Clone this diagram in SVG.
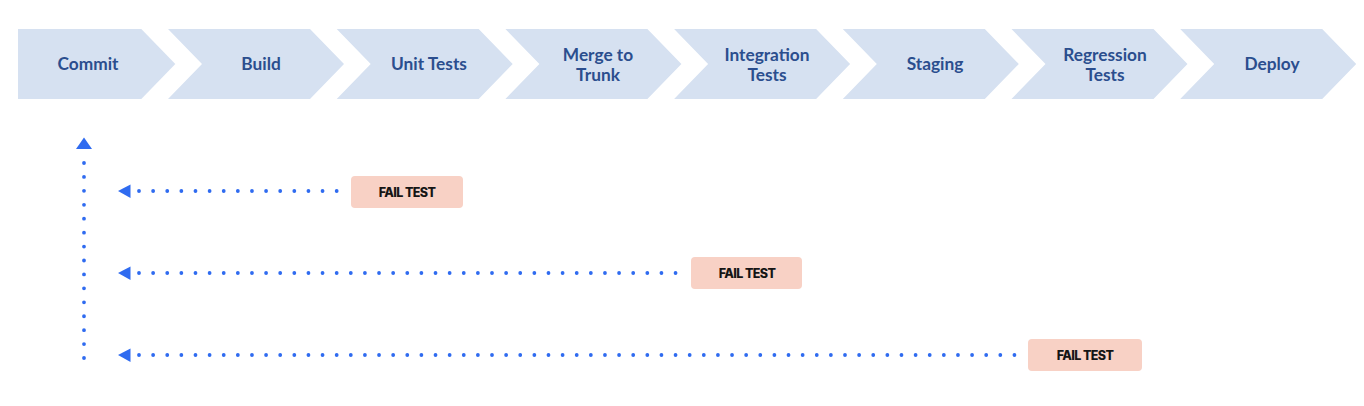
<svg xmlns="http://www.w3.org/2000/svg" width="1364" height="406" viewBox="0 0 1364 406">
<defs>
<style>
.chev{fill:#D6E1F1;}
.lbl{font-family:Lato,"Open Sans",sans-serif;font-weight:700;font-size:17.3px;fill:#2B4E8E;text-anchor:middle;}
.dot{fill:none;stroke:#2F6BF0;stroke-width:3.8;stroke-linecap:round;stroke-dasharray:0 14.12;}
.head{fill:#2F6BF0;}
.fail{fill:#F8D1C5;}
.ft{font-family:Inter,"Liberation Sans",sans-serif;font-weight:800;font-size:12.5px;fill:#151515;text-anchor:middle;letter-spacing:-0.6px;}
</style>
</defs>
<rect width="1364" height="406" fill="#FFFFFF"/>
<g id="commit"><polygon class="chev" points="18,29 141.3,29 175.3,64 141.3,99 18,99"/><text class="lbl" x="88" y="70">Commit</text></g>
<g id="build"><polygon class="chev" points="168,29 310,29 344,64 310,99 168,99 202,64"/><text class="lbl" x="261" y="70">Build</text></g>
<g id="unit-tests"><polygon class="chev" points="336.7,29 478.7,29 512.7,64 478.7,99 336.7,99 370.7,64"/><text class="lbl" x="429" y="70">Unit Tests</text></g>
<g id="merge-to-trunk"><polygon class="chev" points="505.4,29 647.4,29 681.4,64 647.4,99 505.4,99 539.4,64"/><text class="lbl" x="598" y="60.5">Merge to</text><text class="lbl" x="598" y="80.5">Trunk</text></g>
<g id="integration-tests"><polygon class="chev" points="674.1,29 816.1,29 850.1,64 816.1,99 674.1,99 708.1,64"/><text class="lbl" x="767" y="60.5">Integration</text><text class="lbl" x="767" y="80.5">Tests</text></g>
<g id="staging"><polygon class="chev" points="842.8,29 984.8,29 1018.8,64 984.8,99 842.8,99 876.8,64"/><text class="lbl" x="935" y="70">Staging</text></g>
<g id="regression-tests"><polygon class="chev" points="1011.5,29 1153.5,29 1187.5,64 1153.5,99 1011.5,99 1045.5,64"/><text class="lbl" x="1105" y="60.5">Regression</text><text class="lbl" x="1105" y="80.5">Tests</text></g>
<g id="deploy"><polygon class="chev" points="1180.2,29 1322.2,29 1356.2,64 1322.2,99 1180.2,99 1214.2,64"/><text class="lbl" x="1272" y="70">Deploy</text></g>
<g id="fail-1"><rect class="fail" x="351" y="176" width="112" height="32" rx="4"/><text class="ft" x="407" y="196.5">FAIL TEST</text></g>
<g id="fail-2"><rect class="fail" x="691" y="257" width="111" height="32" rx="4"/><text class="ft" x="747" y="277.5">FAIL TEST</text></g>
<g id="fail-3"><rect class="fail" x="1028" y="339" width="114" height="32" rx="4"/><text class="ft" x="1085" y="359.5">FAIL TEST</text></g>
<g id="connectors">
<path class="dot" d="M84,163 V360" style="stroke-dasharray:0 13.93"/>
<polygon class="head" points="84,137.5 92,149 76,149"/>
<path class="dot" d="M139,191 H340"/>
<polygon class="head" points="118,191 130.5,184.5 130.5,198"/>
<path class="dot" d="M139,273 H680"/>
<polygon class="head" points="118,273 130.5,266.5 130.5,280"/>
<path class="dot" d="M139,355 H1015"/>
<polygon class="head" points="118,355 130.5,348.5 130.5,362"/>
</g>
</svg>
